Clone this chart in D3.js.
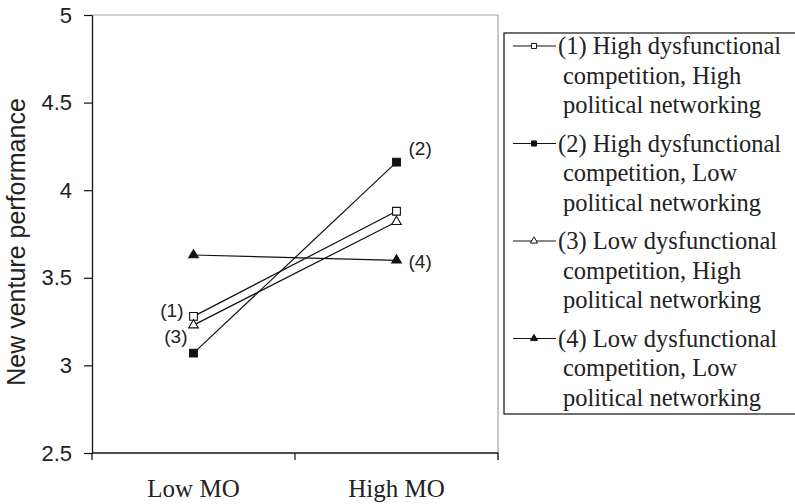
<!DOCTYPE html>
<html>
<head>
<meta charset="utf-8">
<script src="https://cdn.jsdelivr.net/npm/d3@7"></script>
<style>
  html, body { margin: 0; padding: 0; background: #fff; }
  svg { display: block; }
</style>
</head>
<body>
<svg id="chart" width="795" height="504"></svg>
<script>
// ---- data ----
const categories = ["Low MO", "High MO"];
const seriesNames = [
  ["(1) High dysfunctional", "competition, High", "political networking"],
  ["(2) High dysfunctional", "competition, Low", "political networking"],
  ["(3) Low dysfunctional", "competition, High", "political networking"],
  ["(4) Low dysfunctional", "competition, Low", "political networking"]
];
const series1 = [3.28, 3.88];
const series2 = [3.07, 4.16];
const series3 = [3.23, 3.82];
const series4 = [3.63, 3.60];
const pointLabels = ["(1)", "(2)", "(3)", "(4)"];
const yTicks = [2.5, 3, 3.5, 4, 4.5, 5];
const yTickLabels = ["2.5", "3", "3.5", "4", "4.5", "5"];
const yTitle = "New venture performance";

// ---- styling / layout ----
const allValues = [series1, series2, series3, series4];
const symbolTypes = [d3.symbolSquare, d3.symbolSquare, d3.symbolTriangle, d3.symbolTriangle];
const filled = [false, true, false, true];
// where each point label sits: which category index, offsets, anchor
const labelPlace = [
  { i: 0, dx: -10, dy: -6, anchor: "end" },
  { i: 1, dx: 12, dy: -14, anchor: "start" },
  { i: 0, dx: -6, dy: 11, anchor: "end" },
  { i: 1, dx: 12, dy: 1, anchor: "start" }
];

const svg = d3.select("#chart");
const plot = { left: 92, right: 498, top: 15, bottom: 453 };

const x = d3.scaleBand().domain(categories).range([plot.left, plot.right]).padding(0);
const y = d3.scaleLinear().domain([2.5, 5]).range([plot.bottom, plot.top]);

// gray top/right border
svg.append("line").attr("x1", plot.left).attr("x2", plot.right)
  .attr("y1", plot.top).attr("y2", plot.top)
  .attr("stroke", "#a0a0a0").attr("stroke-width", 1.2);
svg.append("line").attr("x1", plot.right).attr("x2", plot.right)
  .attr("y1", plot.top).attr("y2", plot.bottom + 7)
  .attr("stroke", "#a0a0a0").attr("stroke-width", 1.2);

// y axis
const yAxis = svg.append("g")
  .attr("transform", `translate(${plot.left},0)`)
  .call(d3.axisLeft(y).tickValues(yTicks)
    .tickFormat((d, i) => yTickLabels[i])
    .tickSize(8).tickSizeOuter(0).tickPadding(12));
yAxis.select(".domain").attr("stroke", "#111").attr("stroke-width", 1.3);
yAxis.selectAll(".tick line").attr("stroke", "#111").attr("stroke-width", 1.2);
yAxis.selectAll(".tick text")
  .attr("font-family", "'Liberation Sans', Arial, sans-serif")
  .attr("font-size", 22).attr("fill", "#222");
// left axis extends slightly below bottom axis
svg.append("line").attr("x1", plot.left).attr("x2", plot.left)
  .attr("y1", plot.bottom).attr("y2", plot.bottom + 7)
  .attr("stroke", "#111").attr("stroke-width", 1.3);

// x axis
svg.append("line").attr("x1", plot.left).attr("x2", plot.right)
  .attr("y1", plot.bottom).attr("y2", plot.bottom)
  .attr("stroke", "#111").attr("stroke-width", 1.3);
const boundaries = categories.map(c => x(c)).concat([x(categories[categories.length - 1]) + x.bandwidth()]);
svg.selectAll(".xtick").data(boundaries.slice(1)).enter().append("line")
  .attr("x1", d => d).attr("x2", d => d)
  .attr("y1", plot.bottom).attr("y2", plot.bottom + 7)
  .attr("stroke", "#111").attr("stroke-width", 1.2);
const xAxis = svg.append("g")
  .attr("transform", `translate(0,${plot.bottom})`)
  .call(d3.axisBottom(x).tickSize(0).tickPadding(26));
xAxis.select(".domain").remove();
xAxis.selectAll(".tick text")
  .attr("font-family", "'Liberation Serif', 'Times New Roman', serif")
  .attr("font-size", 25).attr("fill", "#222");

// y title
svg.append("text")
  .attr("transform", `translate(25,${(plot.top + plot.bottom) / 2 + 8}) rotate(-90)`)
  .attr("text-anchor", "middle")
  .attr("font-family", "'Liberation Sans', Arial, sans-serif")
  .attr("font-size", 25).attr("fill", "#222")
  .text(yTitle);

// lines & markers
const cx = c => x(c) + x.bandwidth() / 2;
const line = d3.line().x((d, i) => cx(categories[i])).y(d => y(d));
allValues.forEach((vals, s) => {
  svg.append("path").datum(vals)
    .attr("d", line).attr("fill", "none")
    .attr("stroke", "#111").attr("stroke-width", 1.2);
});
allValues.forEach((vals, s) => {
  const size = symbolTypes[s] === d3.symbolSquare ? 60 : 40;
  svg.selectAll(null).data(vals).enter().append("path")
    .attr("transform", (d, i) => `translate(${cx(categories[i])},${y(d)})`)
    .attr("d", d3.symbol().type(symbolTypes[s]).size(size)())
    .attr("fill", filled[s] ? "#111" : "#fff")
    .attr("stroke", "#111").attr("stroke-width", 1.1);
});

// point labels
pointLabels.forEach((lab, s) => {
  const p = labelPlace[s];
  svg.append("text")
    .attr("x", cx(categories[p.i]) + p.dx)
    .attr("y", y(allValues[s][p.i]) + p.dy)
    .attr("dy", "0.35em")
    .attr("text-anchor", p.anchor)
    .attr("font-family", "'Liberation Sans', Arial, sans-serif")
    .attr("font-size", 19).attr("fill", "#222")
    .text(lab);
});

// legend
const lg = { x: 504, y: 33, w: 300, h: 381 };
svg.append("rect").attr("x", lg.x).attr("y", lg.y).attr("width", lg.w).attr("height", lg.h)
  .attr("fill", "#fff").attr("stroke", "#111").attr("stroke-width", 1.2);
const linePitch = 29.5, groupGap = 9, firstCenter = 46;
seriesNames.forEach((lines, s) => {
  const c0 = firstCenter + s * (3 * linePitch + groupGap);
  svg.append("line").attr("x1", 513).attr("x2", 556).attr("y1", c0).attr("y2", c0)
    .attr("stroke", "#111").attr("stroke-width", 1.2);
  const size = symbolTypes[s] === d3.symbolSquare ? 26 : 22;
  svg.append("path")
    .attr("transform", `translate(534,${c0})`)
    .attr("d", d3.symbol().type(symbolTypes[s]).size(size)())
    .attr("fill", filled[s] ? "#111" : "#fff")
    .attr("stroke", "#111").attr("stroke-width", 1);
  const t = svg.append("text")
    .attr("font-family", "'Liberation Serif', 'Times New Roman', serif")
    .attr("font-size", 24.5).attr("fill", "#222");
  lines.forEach((ln, k) => {
    t.append("tspan")
      .attr("x", k === 0 ? 558 : 563)
      .attr("y", c0 + k * linePitch + 8)
      .text(ln);
  });
});
</script>
</body>
</html>
